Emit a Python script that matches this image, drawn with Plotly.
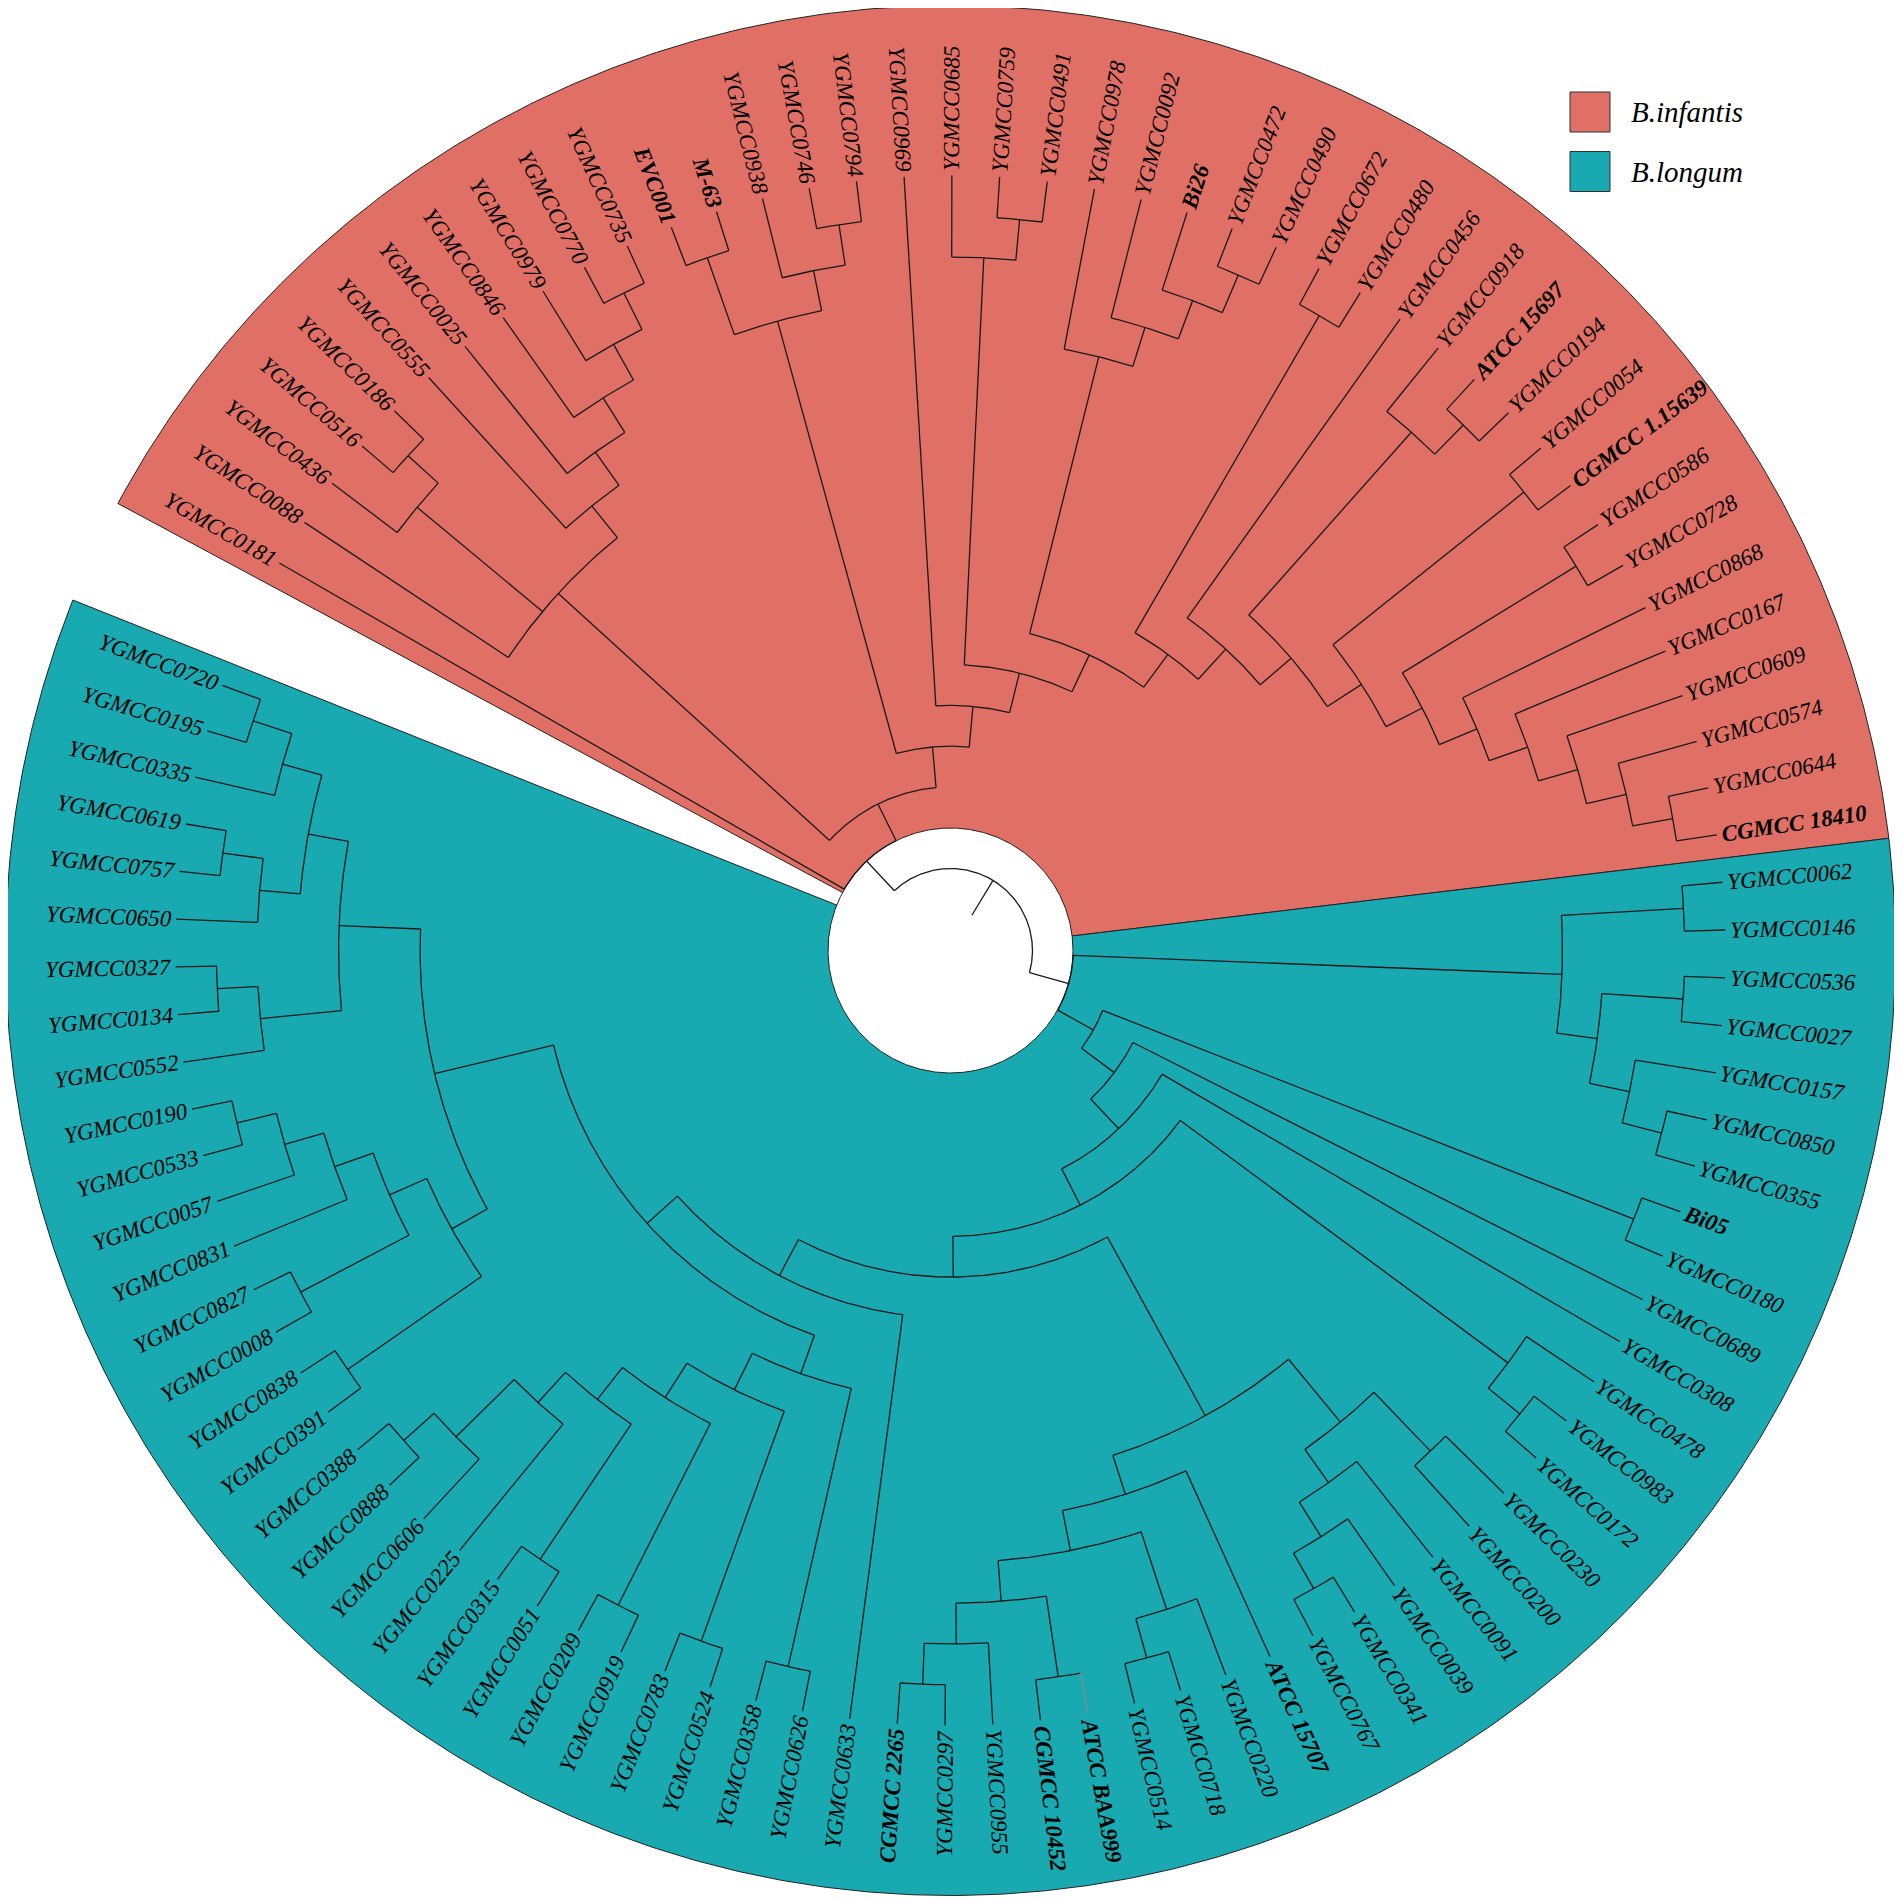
import math
import plotly.graph_objects as go

# tips in drawing order, counter-clockwise, starting just after the open gap
longum_tips = [
    "YGMCC0720", "YGMCC0195", "YGMCC0335", "YGMCC0619", "YGMCC0757", "YGMCC0650",
    "YGMCC0327", "YGMCC0134", "YGMCC0552", "YGMCC0190", "YGMCC0533", "YGMCC0057",
    "YGMCC0831", "YGMCC0827", "YGMCC0008", "YGMCC0838", "YGMCC0391", "YGMCC0388",
    "YGMCC0888", "YGMCC0606", "YGMCC0225", "YGMCC0315", "YGMCC0051", "YGMCC0209",
    "YGMCC0919", "YGMCC0783", "YGMCC0524", "YGMCC0358", "YGMCC0626", "YGMCC0633",
    "CGMCC 2265", "YGMCC0297", "YGMCC0955", "CGMCC 10452", "ATCC BAA999", "YGMCC0514",
    "YGMCC0718", "YGMCC0220", "ATCC 15707", "YGMCC0767", "YGMCC0341", "YGMCC0039",
    "YGMCC0091", "YGMCC0200", "YGMCC0230", "YGMCC0172", "YGMCC0983", "YGMCC0478",
    "YGMCC0308", "YGMCC0689", "YGMCC0180", "Bi05", "YGMCC0355", "YGMCC0850",
    "YGMCC0157", "YGMCC0027", "YGMCC0536", "YGMCC0146", "YGMCC0062",
]
infantis_tips = [
    "CGMCC 18410", "YGMCC0644", "YGMCC0574", "YGMCC0609", "YGMCC0167", "YGMCC0868",
    "YGMCC0728", "YGMCC0586", "CGMCC 1.15639", "YGMCC0054", "YGMCC0194", "ATCC 15697",
    "YGMCC0918", "YGMCC0456", "YGMCC0480", "YGMCC0672", "YGMCC0490", "YGMCC0472",
    "Bi26", "YGMCC0092", "YGMCC0978", "YGMCC0491", "YGMCC0759", "YGMCC0685",
    "YGMCC0969", "YGMCC0794", "YGMCC0746", "YGMCC0938", "M-63", "EVC001",
    "YGMCC0735", "YGMCC0770", "YGMCC0979", "YGMCC0846", "YGMCC0025", "YGMCC0555",
    "YGMCC0186", "YGMCC0516", "YGMCC0436", "YGMCC0088", "YGMCC0181",
]
bold_tips = ["EVC001", "M-63", "Bi26", "ATCC 15697", "CGMCC 1.15639", "CGMCC 18410",
             "Bi05", "ATCC 15707", "ATCC BAA999", "CGMCC 10452", "CGMCC 2265"]
grey_tips = ["ATCC BAA999"]

# clades: (name, children, branch length above the clade in cladogram steps)
# tips are always drawn out to the common tip circle
clades = [
    ("a1", ["YGMCC0720", "YGMCC0195"], 1),
    ("a2", ["a1", "YGMCC0335"], 1),
    ("a3", ["YGMCC0619", "YGMCC0757"], 1),
    ("a4", ["a3", "YGMCC0650"], 1),
    ("a5", ["a2", "a4"], 1),
    ("a6", ["YGMCC0327", "YGMCC0134"], 1),
    ("a7", ["a6", "YGMCC0552"], 2),
    ("a8", ["a5", "a7"], 2),
    ("b1", ["YGMCC0190", "YGMCC0533"], 1),
    ("b2", ["b1", "YGMCC0057"], 1),
    ("b3", ["b2", "YGMCC0831"], 1),
    ("b4", ["YGMCC0827", "YGMCC0008"], 3),
    ("b5", ["b3", "b4"], 1),
    ("b6", ["YGMCC0838", "YGMCC0391"], 4),
    ("b7", ["b5", "b6"], 1),
    ("c0", ["a8", "b7"], 3),
    ("c1", ["YGMCC0388", "YGMCC0888"], 1),
    ("c2", ["c1", "YGMCC0606"], 2),
    ("c3", ["c2", "YGMCC0225"], 1),
    ("c4", ["YGMCC0315", "YGMCC0051"], 4),
    ("c5", ["c3", "c4"], 1),
    ("c6", ["YGMCC0209", "YGMCC0919"], 5),
    ("c7", ["c5", "c6"], 1),
    ("c8", ["YGMCC0783", "YGMCC0524"], 6),
    ("c9", ["c7", "c8"], 1),
    ("c10", ["YGMCC0358", "YGMCC0626"], 7),
    ("c11", ["c9", "c10"], 1),
    ("c12", ["c0", "c11"], 1),
    ("c13", ["c12", "YGMCC0633"], 1),
    ("d1", ["CGMCC 2265", "YGMCC0297"], 1),
    ("d2", ["d1", "YGMCC0955"], 1),
    ("d3", ["CGMCC 10452", "ATCC BAA999"], 2),
    ("d4", ["d2", "d3"], 1),
    ("d5", ["YGMCC0514", "YGMCC0718"], 1),
    ("d6", ["d5", "YGMCC0220"], 2),
    ("d7", ["d4", "d6"], 1),
    ("d8", ["d7", "ATCC 15707"], 1),
    ("e1", ["YGMCC0767", "YGMCC0341"], 1),
    ("e2", ["e1", "YGMCC0039"], 1),
    ("e3", ["e2", "YGMCC0091"], 1),
    ("e4", ["YGMCC0200", "YGMCC0230"], 2),
    ("e5", ["e3", "e4"], 2),
    ("e6", ["d8", "e5"], 5),
    ("f1", ["c13", "e6"], 1),
    ("f2", ["YGMCC0172", "YGMCC0983"], 1),
    ("f3", ["f2", "YGMCC0478"], 10),
    ("f4", ["f1", "f3"], 1),
    ("f5", ["f4", "YGMCC0308"], 1),
    ("f6", ["f5", "YGMCC0689"], 1),
    ("f7", ["YGMCC0180", "Bi05"], 14),
    ("f8", ["f6", "f7"], 1),
    ("g1", ["YGMCC0355", "YGMCC0850"], 1),
    ("g2", ["g1", "YGMCC0157"], 1),
    ("g3", ["YGMCC0027", "YGMCC0536"], 2),
    ("g4", ["g2", "g3"], 1),
    ("g5", ["YGMCC0146", "YGMCC0062"], 3),
    ("g6", ["g4", "g5"], 12),
    ("longum", ["f8", "g6"], 1),
    ("h1", ["CGMCC 18410", "YGMCC0644"], 1),
    ("h2", ["h1", "YGMCC0574"], 1),
    ("h3", ["h2", "YGMCC0609"], 1),
    ("h4", ["h3", "YGMCC0167"], 1),
    ("h5", ["h4", "YGMCC0868"], 1),
    ("h6", ["YGMCC0728", "YGMCC0586"], 5),
    ("h7", ["h5", "h6"], 1),
    ("h8", ["CGMCC 1.15639", "YGMCC0054"], 6),
    ("h9", ["h7", "h8"], 1),
    ("h10", ["YGMCC0194", "ATCC 15697"], 1),
    ("h11", ["h10", "YGMCC0918"], 6),
    ("h12", ["h9", "h11"], 1),
    ("h13", ["h12", "YGMCC0456"], 1),
    ("h14", ["YGMCC0480", "YGMCC0672"], 9),
    ("h15", ["h13", "h14"], 1),
    ("i1", ["YGMCC0490", "YGMCC0472"], 1),
    ("i2", ["i1", "Bi26"], 1),
    ("i3", ["i2", "YGMCC0092"], 1),
    ("i4", ["i3", "YGMCC0978"], 7),
    ("i5", ["h15", "i4"], 1),
    ("i6", ["YGMCC0491", "YGMCC0759"], 1),
    ("i7", ["i6", "YGMCC0685"], 10),
    ("i8", ["i5", "i7"], 1),
    ("i9", ["i8", "YGMCC0969"], 1),
    ("j1", ["YGMCC0794", "YGMCC0746"], 1),
    ("j2", ["j1", "YGMCC0938"], 1),
    ("j3", ["M-63", "EVC001"], 2),
    ("j4", ["j2", "j3"], 11),
    ("j5", ["i9", "j4"], 1),
    ("k1", ["YGMCC0735", "YGMCC0770"], 1),
    ("k2", ["k1", "YGMCC0979"], 1),
    ("k3", ["k2", "YGMCC0846"], 1),
    ("k4", ["k3", "YGMCC0025"], 1),
    ("k5", ["k4", "YGMCC0555"], 1),
    ("k6", ["YGMCC0186", "YGMCC0516"], 1),
    ("k7", ["k6", "YGMCC0436"], 4),
    ("k8", ["k5", "k7", "YGMCC0088"], 9),
    ("k9", ["j5", "k8"], 1),
    ("infantis", ["k9", "YGMCC0181"], 1),
    ("root", ["longum", "infantis"], 1),
]

legend_names = ["B.infantis", "B.longum"]
legend_colors = ["#E07066", "#18A9B1"]

# page geometry (pixels); the page body adds an 8px margin round the figure
W, H = 1902, 1901
PAGE_OFF = 8
R_OUT = 945
R_HOLE = 122.5
R_TIP = 775
R_ROOT = 82
START = 160.0
OPEN = 10.0
FS = 23

tips = longum_tips + infantis_tips
kids = {c[0]: c[1] for c in clades}
blen = {c[0]: c[2] for c in clades}
dstep = (360.0 - OPEN) / (len(tips) - 1)
ang = {t: START + i * dstep for i, t in enumerate(tips)}

depth = {"root": 0}
order = []
leaf_order = []


def walk(node):
    order.append(node)
    for c in kids[node]:
        if c in kids:
            depth[c] = depth[node] + blen[c]
            walk(c)
        else:
            leaf_order.append(c)


walk("root")
assert leaf_order == tips, "tree and tip list disagree"

for node in reversed(order):
    ch = kids[node]
    ang[node] = (ang[ch[0]] + ang[ch[-1]]) / 2

n_levels = max(depth.values()) + 1
rstep = (R_TIP - R_ROOT) / n_levels


def rad(n):
    if n not in kids:
        return R_TIP
    return R_ROOT + depth[n] * rstep


def pol(r, a):
    t = math.radians(a)
    return r * math.cos(t), r * math.sin(t)


def arc(r, a0, a1):
    n = max(2, int(abs(a1 - a0) * 3) + 2)
    return [pol(r, a0 + (a1 - a0) * k / (n - 1)) for k in range(n)]


def add(xs, ys, pts):
    for p in pts:
        xs.append(p[0])
        ys.append(p[1])
    xs.append(None)
    ys.append(None)


fig = go.Figure()

# coloured sectors
half = dstep / 2
for group, col in [(infantis_tips, legend_colors[0]), (longum_tips, legend_colors[1])]:
    pts = [(0, 0)] + arc(R_OUT, ang[group[0]] - half, ang[group[-1]] + half) + [(0, 0)]
    fig.add_trace(go.Scatter(
        x=[p[0] for p in pts], y=[p[1] for p in pts], mode="lines",
        fill="toself", fillcolor=col, line=dict(color="#222222", width=1),
        hoverinfo="skip"))

# white hole in the middle
pts = arc(R_HOLE, 0, 360)
fig.add_trace(go.Scatter(
    x=[p[0] for p in pts], y=[p[1] for p in pts], mode="lines",
    fill="toself", fillcolor="white", line=dict(color="#222222", width=1),
    hoverinfo="skip"))

# branches
lx, ly, gx, gy = [], [], [], []
for node in order:
    r0 = rad(node)
    ch = kids[node]
    add(lx, ly, arc(r0, ang[ch[0]], ang[ch[-1]]))
    for c in ch:
        if c in grey_tips:
            add(gx, gy, [pol(r0, ang[c]), pol(rad(c), ang[c])])
        else:
            add(lx, ly, [pol(r0, ang[c]), pol(rad(c), ang[c])])
add(lx, ly, [pol(R_ROOT - blen["root"] * rstep, ang["root"]), pol(R_ROOT, ang["root"])])

fig.add_trace(go.Scatter(x=lx, y=ly, mode="lines", line=dict(color="#1a1a1a", width=1.3),
                         hoverinfo="skip"))
fig.add_trace(go.Scatter(x=gx, y=gy, mode="lines", line=dict(color="#8a8a8a", width=1.3),
                         hoverinfo="skip"))

# tip labels (Times metrics for the box width)
ital = {"Y": 556, "G": 722, "M": 833, "C": 667, "A": 611, "T": 556, "B": 611,
        "E": 611, "V": 611, "i": 278, " ": 250, ".": 250, "-": 333}
bital = {"Y": 611, "G": 722, "M": 889, "C": 667, "A": 667, "T": 611, "B": 667,
         "E": 667, "V": 667, "i": 278, " ": 250, ".": 250, "-": 333}

for t in tips:
    a = ang[t]
    bold = t in bold_tips
    table = bital if bold else ital
    w = sum(table.get(ch, 500) for ch in t) / 1000 * FS
    cx, cy = pol(R_TIP + 5 + w / 2, a)
    if math.cos(math.radians(a)) >= 0:
        rot = -a
    else:
        rot = 180 - a
    rot = (rot + 180) % 360 - 180
    txt = "<i><b>%s</b></i>" % t if bold else "<i>%s</i>" % t
    fig.add_annotation(x=cx, y=cy, text=txt, showarrow=False, textangle=rot,
                       xanchor="center", yanchor="middle",
                       font=dict(family="Liberation Serif", size=FS, color="black"))

# legend boxes
for i, (name, col) in enumerate(zip(legend_names, legend_colors)):
    top = 92 + i * 59.5 - PAGE_OFF
    left = 1570 - PAGE_OFF
    fig.add_shape(type="rect", xref="paper", yref="paper",
                  x0=left / W, x1=(left + 40) / W, y0=1 - (top + 40) / H, y1=1 - top / H,
                  fillcolor=col, line=dict(color="#333333", width=1))
    fig.add_annotation(xref="paper", yref="paper", x=(left + 59) / W, y=1 - (top + 20) / H,
                       text="<i>%s</i>" % name, showarrow=False,
                       xanchor="left", yanchor="middle",
                       font=dict(family="Liberation Serif", size=29, color="black"))

cx0 = 950.5 - PAGE_OFF
fig.update_layout(
    width=W, height=H, margin=dict(l=0, r=0, t=0, b=0),
    plot_bgcolor="white", paper_bgcolor="white", showlegend=False,
    xaxis=dict(visible=False, range=[-cx0, W - cx0], fixedrange=True),
    yaxis=dict(visible=False, range=[cx0 - H, cx0], fixedrange=True),
)

fig.write_html("out.html")
